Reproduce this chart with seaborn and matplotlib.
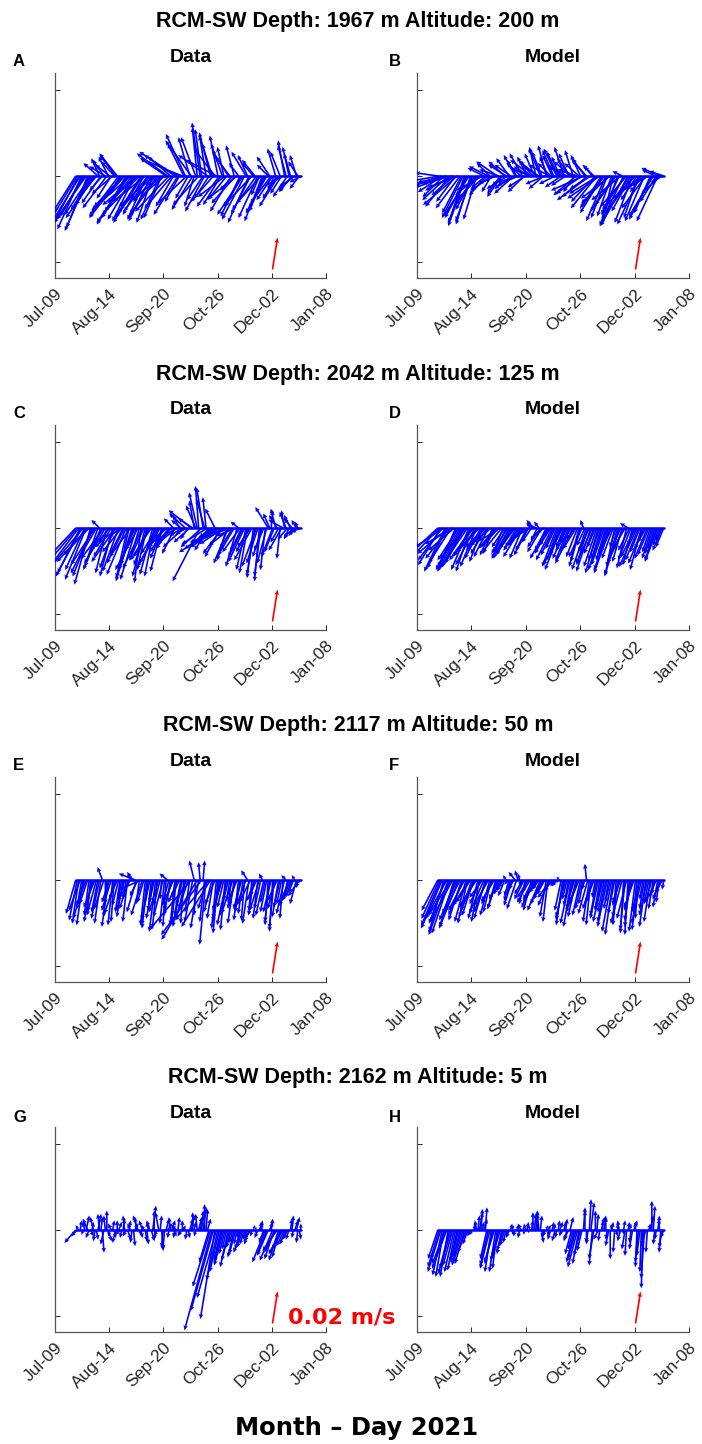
import numpy as np
import pandas as pd
import matplotlib
matplotlib.use("Agg")
import matplotlib.pyplot as plt
import seaborn as sns

# ---------------------------------------------------------------------------
# Current-meter record RCM-SW, 9 Jul 2021 - 8 Jan 2022, daily vectors.
# Record day 0 is 9 July.  Even days (14..166) and odd days (15..165)
# are kept in separate lists.
# ---------------------------------------------------------------------------
EVEN_FIRST, EVEN_LAST = 14, 166
ODD_FIRST, ODD_LAST = 15, 165

tick_labels = ["Jul-09", "Aug-14", "Sep-20", "Oct-26", "Dec-02", "Jan-08"]
depths = [1967, 2042, 2117, 2162]
altitudes = [200, 125, 50, 5]
panel_letters = ["A", "B", "C", "D", "E", "F", "G", "H"]
column_titles = ["Data", "Model"]

# Velocity components (cm/s): u eastward, v northward -- even days
u_A = [-1.4, -1.6, -1.5, -1.7, -1.3, -1.6, -1.1, -1.2,
       -0.5, -0.8, -1.0, -0.6, -0.9, -0.8, -1.1, -0.7,
       -1.8, -1.5, -2.0, -1.7, -1.4, -1.9, -1.6, -1.3,
       -1.2, -1.6, -1.0, -1.4, -1.8, -1.1, -1.5, -1.9,
       -1.4, -1.1, -2.0, -0.9, -1.3, -1.2, -0.8, -1.6,
       -0.6, -0.3, -0.5, -1.0, -0.4, -0.9, -0.6, -1.3,
       -0.5, -1.1, -0.4, -1.2, -0.9, -0.8, -1.5, -0.6,
       -1.0, -1.4, -0.6, -1.2, -0.7, -1.5, -0.5, -1.1,
       -1.0, -0.7, -1.3, -0.4, -0.9, -0.6, -1.1, -0.5,
       -0.3, -0.8, -1.0, -0.6, -0.7]
v_A = [-2.2, -3.0, -3.3, -2.7, -3.2, -2.4, -1.8, -1.5,
       1.1, -0.9, 0.6, 1.2, -1.4, 0.9, 1.4, -1.2,
       -1.9, -2.6, -2.9, -2.2, -2.8, -1.7, -2.6, -2.4,
       -2.7, -2.2, -2.9, -1.6, -2.4, -2.6, -1.3, 1.4,
       1.2, -1.9, 1.3, -1.6, 0.5, 2.6, -1.4, 2.2,
       -1.9, 3.0, 3.3, -1.5, 2.5, -1.4, 2.0, 1.7,
       2.5, -1.8, 1.8, -1.5, 1.2, -0.9, -1.7, 0.8,
       -1.9, -2.7, 1.3, -2.4, 0.8, -2.1, -1.2, -2.8,
       -2.0, 0.7, -1.7, -0.9, -1.4, 1.5, -0.6, 1.9,
       1.4, -1.0, -0.7, 0.9, -0.4]
# odd days
u_A_odd = [-1.7, -1.9, -1.4, -2.0, -1.5, -1.3, -1.8, -0.9,
           -1.2, -0.7, -1.5, -0.9, -1.3, -1.0, -1.7, -2.0,
           -2.2, -1.9, -2.4, -1.6, -2.1, -2.3, -1.8, -2.0,
           -1.9, -1.4, -2.2, -1.7, -1.2, -2.0, -1.6, -2.1,
           -1.7, -2.2, -1.5, -2.5, -1.0, -1.8, -0.7, -1.3,
           -0.9, -1.6, -0.4, -1.2, -1.8, -0.7, -1.4, -1.9,
           -1.4, -0.7, -1.7, -1.0, -1.3, -0.5, -1.8, -1.2,
           -1.6, -0.9, -1.3, -1.8, -0.8, -1.2, -1.5, -0.9,
           -1.3, -0.8, -1.0, -0.5, -1.2, -0.7, -0.4, -0.9,
           -0.5, -0.9, -0.4, -0.6]
v_A_odd = [-2.8, -3.1, -2.5, -2.9, -3.4, -2.1, -2.6, 0.8,
           -1.7, 1.0, -2.0, 0.7, -1.1, 1.3, -2.3, -2.6,
           -2.5, -3.0, -2.1, -2.7, -1.8, -2.4, -2.9, -1.6,
           -2.3, -2.8, -1.9, -2.5, -2.7, -1.5, 1.1, -2.2,
           -2.0, 1.5, -2.4, 1.1, 2.0, -1.7, 2.4, -2.1,
           2.4, -1.8, 2.9, -2.2, 1.3, 2.7, -1.6, 1.0,
           -1.9, 2.0, -1.3, 1.6, -2.2, 1.9, -1.4, -2.5,
           -2.4, 1.5, -2.9, -1.9, 1.0, -2.6, -1.7, -2.2,
           -2.3, 1.2, -1.5, 1.7, -1.9, -1.1, 2.2, -1.3,
           1.8, -0.9, 1.3, -0.8]

u_B = [-1.4, -1.6, -1.3, -1.8, -1.5, -1.7, -1.2, -1.9,
       -1.2, -1.0, -1.4, -0.9, -1.1, -0.8, -1.3, -1.6,
       -0.9, -1.2, -0.6, -1.0, -1.3, -0.8, -0.7, -1.1,
       -0.8, -1.1, -0.7, -1.3, -0.9, -1.0, -0.6, -1.2,
       -0.9, -0.4, -1.0, -0.6, -1.2, -0.5, -0.8, -0.7,
       -0.8, -0.5, -1.0, -0.9, -0.6, -1.1, -0.7, -1.3,
       -0.6, -2.0, -0.9, -1.7, -0.5, -1.5, -1.8, -1.2,
       -1.5, -1.0, -1.8, -0.7, -1.3, -1.1, -0.6, -1.4,
       -1.7, -1.2, -2.0, -1.0, -1.4, -0.8, -1.5, -1.1,
       -1.4, -0.8, -1.3, -1.2, -0.9]
v_B = [0.2, -0.6, -1.3, -0.4, -1.9, -0.9, -1.6, -0.7,
       -2.3, -2.9, -2.6, -3.0, -2.1, -2.7, -1.4, -0.9,
       -0.8, 0.6, -1.0, -0.5, 0.9, -1.1, -0.6, 0.7,
       1.1, -0.8, 1.3, -0.6, 0.8, -1.0, 1.2, 0.5,
       1.0, 1.8, 0.6, 1.5, -0.5, 1.2, 0.8, 1.6,
       1.7, 1.2, 0.7, -0.6, 1.4, 0.9, -1.0, 0.4,
       1.3, -0.9, 1.0, -1.3, 0.6, -1.6, -1.1, -1.9,
       -2.0, -2.6, -1.4, -3.0, -1.8, -2.4, 0.3, -2.1,
       -3.1, -2.2, -2.6, -1.5, -3.0, -1.0, -2.0, -0.6,
       -2.7, 0.4, -2.8, -1.1, 0.3]
u_B_odd = [-1.7, -1.5, -2.0, -1.6, -1.8, -1.4, -2.1, -1.5,
           -1.3, -1.1, -1.5, -1.0, -1.2, -1.4, -0.9, -1.0,
           -1.1, -0.8, -1.4, -0.7, -1.2, -0.9, -1.0, -1.3,
           -1.0, -1.2, -0.6, -1.4, -0.8, -1.1, -0.9, -1.3,
           -0.6, -1.1, -0.7, -0.9, -0.5, -1.3, -0.6, -1.0,
           -0.7, -1.0, -0.6, -1.2, -0.8, -0.5, -1.4, -0.9,
           -1.6, -0.8, -1.9, -1.3, -0.7, -1.6, -2.0, -1.4,
           -1.2, -1.7, -0.9, -1.5, -1.1, -1.8, -1.3, -1.6,
           -1.5, -1.1, -1.8, -0.9, -1.6, -1.2, -1.3, -1.0,
           -1.5, -1.0, -1.1, -0.7]
v_B_odd = [-0.3, -1.0, -0.8, -1.5, -0.5, -1.2, -1.8, -2.0,
           -2.6, -3.1, -2.4, -2.8, -1.8, -1.2, -0.7, 0.5,
           -1.2, 0.8, -0.9, -0.3, 0.4, -1.3, 0.9, -0.8,
           0.7, -1.1, 1.0, -0.4, 1.4, -0.7, 0.6, 1.0,
           1.4, 0.9, 1.7, -0.8, 1.9, 0.7, 1.3, -0.5,
           1.5, -0.7, 1.8, 0.6, 1.1, 1.6, -1.2, 0.8,
           -1.1, 1.1, -1.5, -0.8, 0.7, -2.0, -1.4, -2.3,
           -2.8, -1.7, -2.5, -2.2, -3.1, -1.5, -2.7, -1.9,
           -2.4, -2.9, -1.8, -2.6, -1.3, -2.8, -0.8, -2.3,
           -2.5, -1.6, 0.5, -0.4]

u_C = [-1.5, -1.8, -1.6, -1.2, -1.9, -1.0, -1.4, -1.1,
       -0.5, -0.8, -1.3, -0.6, -1.1, -0.9, -1.4, -0.7,
       -0.8, -1.2, -0.5, -1.0, -0.6, -1.4, -0.4, -0.9,
       -0.6, -1.0, -0.8, -0.5, -1.2, -0.7, -0.9, -1.1,
       -0.9, -0.6, -1.2, -0.4, -0.8, -1.0, -0.5, -1.4,
       -0.3, -0.5, -1.7, -0.4, -0.2, -0.9, -1.0, -0.6,
       -2.4, -1.0, -1.5, -0.6, -2.0, -0.8, -1.2, -0.5,
       -0.7, -1.0, -0.5, -0.8, -0.4, -0.9, -0.3, -0.6,
       -0.3, -0.8, 0.1, -0.6, -0.5, -0.2, -0.9, -0.4,
       -0.3, -0.5, -0.4, -0.2, -0.7]
v_C = [-1.6, -2.4, -3.0, -2.6, -2.1, -3.5, -2.8, -1.9,
       0.5, -1.6, -2.2, -1.0, -1.8, -2.5, -1.2, -0.6,
       -1.6, -2.9, -2.3, -3.3, -1.4, -2.6, -3.4, -2.0,
       -2.6, -1.8, -2.9, -1.2, -2.2, -2.7, -1.5, -0.8,
       -1.3, 0.6, -1.0, 0.8, -0.5, 0.9, -0.7, 1.1,
       1.7, 2.2, -3.3, 2.5, 1.9, -1.4, -0.9, 1.2,
       -1.5, -1.8, -1.0, -2.0, -0.8, -1.3, -0.5, 0.4,
       -1.5, -2.1, -2.8, -1.2, -3.1, -2.4, -3.3, -1.8,
       -2.6, 1.3, 1.1, -1.5, 0.8, -1.9, 0.5, 1.0,
       -0.7, 0.6, -0.5, 0.4, -0.2]
u_C_odd = [-1.7, -1.4, -2.0, -1.3, -1.6, -1.2, -1.5, -0.9,
           -1.0, -1.4, -0.7, -1.2, -0.8, -1.5, -1.0, -1.2,
           -1.1, -0.7, -1.3, -0.9, -1.0, -0.6, -1.2, -0.8,
           -0.9, -1.3, -0.6, -1.0, -1.4, -0.8, -1.1, -0.7,
           -1.1, -0.8, -1.5, -0.6, -1.3, -0.7, -1.0, -0.9,
           -0.6, -0.2, -1.3, -0.5, -1.6, -0.7, -1.8, -1.2,
           -1.8, -1.2, -2.2, -0.9, -1.4, -1.0, -0.7, -1.1,
           -0.9, -0.6, -0.8, -1.1, -0.5, -0.7, -0.4, -0.6,
           -0.6, -0.4, -0.7, -0.3, -0.5, -0.8, -0.2, -0.6,
           -0.4, -0.6, -0.3, -0.5]
v_C_odd = [-2.0, -2.8, -2.4, -3.2, -1.7, -3.0, -2.3, -2.6,
           -2.4, -1.9, -2.8, -1.4, -3.0, -2.1, -2.7, -1.5,
           -2.2, -3.1, -1.8, -2.6, -3.2, -2.0, -2.5, -3.0,
           -2.3, -2.0, -3.0, -1.6, -2.4, -1.9, -1.2, -0.9,
           -1.0, -1.6, -0.8, 0.5, -1.2, -0.4, -0.9, 0.6,
           1.4, 2.6, -1.2, 1.8, -1.0, -0.6, -1.3, -0.7,
           -1.2, -1.6, -0.9, -2.2, -1.1, -1.7, -2.4, -1.5,
           -1.8, -2.6, -1.5, -2.0, -2.9, -2.2, -3.0, -1.4,
           -2.2, 0.9, -1.8, 1.2, -0.9, -1.4, 1.1, -0.7,
           0.8, -0.6, 0.5, -0.3]

u_D = [-1.6, -1.4, -1.8, -1.2, -1.5, -1.7, -1.1, -1.3,
       -1.5, -1.2, -1.7, -0.9, -1.3, -1.0, -1.4, -0.8,
       -1.2, -0.9, -1.1, -0.7, -1.0, -1.3, -0.6, -0.9,
       -1.0, -0.8, -1.2, -0.6, -1.1, -0.9, -0.7, -1.0,
       -0.4, -0.6, -0.3, -0.9, -0.5, -1.1, -0.7, -0.8,
       -0.9, -0.6, -1.2, -0.4, -0.8, -1.0, -0.5, -0.7,
       -0.6, -0.2, -0.9, -0.7, -1.0, -0.5, -0.8, -0.6,
       -0.8, -0.5, -1.0, -0.7, -0.4, -0.9, -0.6, -0.8,
       -0.5, -0.8, -0.4, -1.1, -0.6, -0.9, -0.5, -0.7,
       -0.6, -0.4, -0.8, -0.3, -0.5]
v_D = [-1.5, -2.3, -1.2, -2.5, -1.9, -1.0, -2.6, -2.0,
       -2.7, -2.2, -2.5, -2.7, -1.8, -2.4, -1.5, -2.1,
       -1.4, -1.8, -0.9, -1.6, -1.2, -0.8, -1.5, -1.9,
       -1.9, -1.3, -1.6, -1.1, -1.8, -0.9, -1.4, -0.6,
       0.5, 0.3, 0.4, -1.5, -0.3, -1.9, -1.1, -1.7,
       -2.4, -1.7, -2.3, -0.9, -2.0, -1.4, -0.7, -1.8,
       -2.1, 0.5, -2.6, -1.5, -2.2, -1.2, -2.8, -1.9,
       -2.3, -1.6, -2.8, -1.9, -1.2, -3.0, -2.1, -1.4,
       0.3, -2.0, -1.1, -2.4, -1.5, -2.2, -0.9, -1.7,
       -1.9, -1.3, -2.1, -0.8, -1.2]
u_D_odd = [-1.7, -1.5, -1.3, -1.9, -1.4, -1.6, -1.2, -1.5,
           -1.3, -1.6, -1.1, -1.4, -1.2, -1.5, -1.0, -1.1,
           -1.0, -1.2, -0.8, -1.1, -0.9, -1.2, -0.8, -1.0,
           -0.9, -1.1, -0.7, -1.0, -0.8, -1.2, -0.9, -0.6,
           -0.5, -0.4, -0.8, -0.6, -0.7, -0.9, -1.0, -0.6,
           -0.7, -1.0, -0.5, -0.9, -0.6, -1.1, -0.8, -0.6,
           -0.8, -0.5, -0.7, -0.9, -0.6, -0.8, -0.7, -0.9,
           -0.6, -0.9, -0.7, -0.5, -0.8, -0.7, -1.0, -0.6,
           -0.7, -0.6, -0.9, -0.8, -0.7, -0.6, -0.8, -0.5,
           -0.5, -0.7, -0.4, -0.6]
v_D_odd = [-1.8, -2.0, -2.7, -1.6, -2.2, -1.4, -2.4, -2.6,
           -2.4, -1.9, -2.6, -2.0, -2.3, -1.7, -1.9, -1.2,
           -1.6, -1.1, -1.7, -1.3, -1.0, -1.5, -1.2, -1.6,
           -1.5, -1.7, -1.2, -1.4, -1.9, -1.1, -1.7, -0.9,
           0.2, -0.8, -1.2, -0.5, -1.4, -1.6, -2.0, -1.3,
           -2.0, -2.6, -1.2, -1.9, -1.5, -2.2, -1.3, -2.4,
           -1.8, -1.1, -2.3, -2.7, -1.6, -2.4, -2.0, -2.6,
           -2.0, -2.6, -1.5, -2.4, -2.9, -1.7, -2.2, -2.5,
           -1.4, -2.3, -1.8, -2.0, -2.6, -1.3, -1.9, -1.5,
           -1.6, -2.0, -1.1, -1.4]

u_E = [-0.6, -0.4, -0.3, -0.7, -0.5, -0.2, -0.4, -0.6,
       -0.5, -0.3, 0.0, -0.4, -0.6, -0.2, -0.5, -0.3,
       -0.4, -0.2, -0.6, -0.3, -1.0, -0.5, -1.3, -0.4,
       -0.3, -0.5, -0.2, -0.4, -0.6, -0.1, -0.3, -0.5,
       -0.4, -0.7, -0.3, -0.5, -0.6, -0.4, -0.8, -2.6,
       -0.3, -2.2, -0.1, 0.1, -0.4, -2.1, -0.5, -0.6,
       -0.3, -0.5, -0.4, -0.6, -0.2, -0.7, -0.4, -0.3,
       -0.5, -0.2, -0.4, -0.7, -0.3, -0.4, -0.6, -0.2,
       -0.3, -0.2, -0.5, -0.3, -0.6, -0.4, -0.2, -0.3,
       -0.6, -0.4, -0.2, -0.1, -0.3]
v_E = [-2.1, -2.7, -1.8, -2.4, -1.5, -2.0, -1.3, -2.2,
       -2.4, 0.8, -1.5, -2.9, -1.9, -2.6, -1.2, -2.0,
       -2.3, -1.2, -1.8, 0.5, 0.4, -1.0, -0.6, -1.4,
       -3.0, -2.5, -1.4, -3.2, -2.0, -1.2, -2.7, 0.4,
       -2.2, -1.6, -2.6, -1.1, -2.9, -1.8, -2.4, -3.1,
       1.2, -3.7, 1.1, 1.2, -4.0, -2.5, -2.0, -1.5,
       -3.3, -2.4, -1.7, -2.8, -1.3, -2.1, -1.6, -2.5,
       -1.8, -2.5, 0.6, -1.4, -2.2, -1.0, -1.9, 0.4,
       -1.4, -2.8, -2.0, -3.0, -1.3, -1.7, -2.4, 0.3,
       -1.6, -1.1, 0.3, -0.5, -0.2]
u_E_odd = [-0.5, -0.7, -0.4, -0.6, -0.3, -0.5, -0.7, -0.4,
           -0.4, -0.6, -0.2, -0.5, -0.3, -0.7, -0.4, -0.2,
           -0.5, -0.3, -0.8, -0.4, -0.6, -0.2, -0.7, -0.3,
           -0.4, -0.2, -0.5, -0.3, -0.4, -0.6, -0.2, -0.4,
           -0.5, -0.3, -0.6, -0.4, -0.2, -0.7, -0.3, -0.5,
           -0.1, -0.5, -2.5, -0.3, -0.6, -1.8, -0.4, -0.3,
           -0.4, -0.6, -0.3, -0.5, -0.2, -0.4, -0.6, -0.3,
           -0.3, -0.6, -0.4, -0.2, -0.5, -0.3, -0.4, -0.5,
           -0.4, -0.3, -0.2, -0.5, -0.4, -0.3, -0.5, -0.2,
           -0.5, -0.3, -0.4, -0.7]
v_E_odd = [-2.5, -1.9, -2.8, -1.6, -2.2, -2.6, -1.7, -2.0,
           -2.7, -1.8, -2.3, -1.4, -2.8, -2.1, -1.6, -1.1,
           -1.9, -2.6, -1.3, 0.3, -2.0, -1.5, -2.2, -2.8,
           -2.8, -1.9, -2.4, -3.0, -1.6, -2.3, -2.9, -1.4,
           -1.9, -2.8, -1.4, -2.2, -2.7, -1.5, -2.0, -2.6,
           -2.2, -3.0, -3.4, -2.6, -1.8, -2.9, -2.4, -3.0,
           -2.6, -1.9, -3.1, -2.2, -1.8, -2.7, -1.4, -2.0,
           -2.1, -1.6, -2.7, -1.9, -1.3, -2.4, -1.8, -2.2,
           -2.0, -2.6, -3.2, -1.8, -2.3, -1.5, -2.1, -1.1,
           -1.3, -0.8, -1.5, -1.0]

u_F = [-1.0, -1.2, -0.9, -1.3, -1.1, -1.4, -0.8, -1.2,
       -0.8, -1.0, -0.6, -0.9, -0.7, -1.1, -0.5, -0.8,
       -0.7, -0.9, -0.5, -0.8, -0.6, -0.4, -0.3, -0.2,
       -0.3, -0.5, -0.4, -0.2, -0.1, -0.6, -0.3, -0.8,
       -0.6, -0.9, -0.4, -0.7, -0.5, -0.3, -0.8, -0.2,
       -0.3, -0.2, -0.4, -0.6, -0.3, -0.5, -0.4, -0.7,
       -0.5, -0.3, -0.1, -0.4, -0.6, -0.2, -0.5, -0.3,
       -0.4, -0.6, -0.3, -0.5, -0.2, -0.4, -0.7, -0.3,
       -0.2, -0.4, -0.6, -0.3, -0.5, -0.2, -0.4, -0.3,
       -0.4, -0.2, -0.3, -0.5, -0.1]
v_F = [-1.9, -2.8, -3.2, -2.4, -3.3, -2.6, -2.1, -3.0,
       -2.5, -1.9, -2.7, -1.4, -2.2, -1.7, -2.6, -1.1,
       -2.4, -1.6, -2.0, -1.3, -1.8, -0.9, -0.5, 0.3,
       -1.0, -1.6, 0.5, 0.6, -0.4, -1.2, -0.8, -1.4,
       -1.2, -1.7, -0.6, -1.5, -0.9, -2.6, -1.1, -0.4,
       -0.4, 0.2, -2.8, -2.3, -1.6, -2.9, -1.3, -2.0,
       -2.2, -1.5, 1.0, -2.6, -1.8, -1.1, -2.4, -1.7,
       -2.0, -2.9, -1.4, -3.4, -2.3, -1.6, -2.7, -3.1,
       -3.4, -2.5, -1.7, -3.1, -2.0, -1.2, -2.9, -1.5,
       -1.4, -0.9, -1.7, -1.2, -0.6]
u_F_odd = [-1.1, -1.3, -1.0, -1.2, -1.4, -0.9, -1.1, -1.0,
           -0.9, -0.7, -1.0, -0.8, -0.9, -0.6, -0.7, -0.9,
           -0.8, -0.6, -0.7, -0.5, -0.6, -0.3, -0.4, -0.2,
           -0.4, -0.3, -0.6, -0.1, -0.5, -0.4, -0.7, -0.5,
           -0.7, -0.5, -0.8, -0.6, -0.4, -0.7, -0.5, -0.3,
           -0.1, -0.4, -0.5, -0.3, -0.6, -0.4, -0.5, -0.6,
           -0.4, -0.2, -0.6, -0.3, -0.5, -0.4, -0.3, -0.6,
           -0.5, -0.3, -0.6, -0.4, -0.3, -0.5, -0.2, -0.6,
           -0.3, -0.5, -0.4, -0.2, -0.6, -0.3, -0.5, -0.4,
           -0.3, -0.5, -0.2, -0.4]
v_F_odd = [-2.4, -3.0, -2.7, -3.4, -2.2, -2.9, -2.5, -2.0,
           -2.2, -2.6, -1.6, -2.3, -1.9, -2.4, -1.5, -2.1,
           -2.0, -2.2, -1.5, -1.8, -1.2, -0.7, -1.0, -0.3,
           -1.3, -0.6, -1.8, 0.4, -0.9, -1.5, -1.1, -1.9,
           -1.4, -0.8, -1.9, -1.2, -2.3, -1.6, -0.7, -0.3,
           -0.2, -1.9, -2.5, -1.2, -2.7, -1.8, -2.3, -1.5,
           -1.8, -0.6, -2.1, -2.8, -1.4, -2.2, -1.9, -2.6,
           -2.6, -1.8, -3.2, -2.1, -2.8, -1.4, -3.3, -2.4,
           -2.9, -1.9, -3.2, -2.4, -2.7, -1.8, -2.2, -2.6,
           -1.8, -1.1, -1.4, -0.8]

u_G = [-0.7, -0.2, 0.1, -0.1, -0.3, 0.2, -0.2, 0.1,
       -0.1, 0.1, -0.1, 0.2, -0.2, 0.1, 0.0, -0.3,
       0.1, -0.2, 0.1, -0.1, 0.2, -0.3, 0.1, -0.1,
       0.1, -0.2, 0.2, -0.1, -0.2, 0.1, -0.1, 0.3,
       -0.1, 0.2, -0.3, 0.1, 0.0, -0.2, 0.1, 0.2,
       0.1, -0.1, 0.2, 0.2, 0.1, -0.6, -1.7, -0.9,
       -0.7, -0.4, -0.6, -0.3, -0.5, -0.2, -0.4, -0.1,
       -0.5, -0.3, -0.2, -0.4, 0.1, -0.1, 0.2, -0.1,
       -0.8, -0.7, 0.1, -0.6, -0.9, -0.5, -0.7, -0.4,
       -0.2, 0.1, 0.2, -0.1, 0.0]
v_G = [-0.8, 0.3, -0.2, 0.5, 0.7, -0.4, 0.8, -0.6,
       1.0, -1.4, 0.9, -0.7, 0.4, -0.5, 0.6, -0.3,
       0.7, -0.4, 0.6, -0.8, 0.4, 0.9, -0.5, 0.3,
       -0.9, 0.6, 1.5, -0.6, 1.1, -1.3, -1.2, 0.4,
       0.8, -0.4, 0.3, -0.3, 0.6, 0.2, -0.5, 0.9,
       0.5, 1.0, 0.9, 1.4, 1.3, -2.0, -6.2, -5.5,
       -3.1, -1.8, -2.2, -1.2, -1.9, -0.8, -1.5, -0.5,
       -1.4, -0.9, -0.5, -0.7, 0.3, -0.2, 0.5, 0.4,
       -2.0, -1.6, 0.7, -1.8, -1.3, -1.7, -1.2, -0.9,
       -0.6, 0.9, 0.6, -0.8, 0.4]
u_G_odd = [-0.4, 0.1, -0.1, 0.2, -0.2, 0.1, -0.1, 0.2,
           0.1, -0.2, 0.0, -0.1, 0.1, -0.2, 0.2, -0.1,
           -0.1, 0.2, -0.2, 0.1, -0.1, 0.1, -0.2, 0.1,
           -0.1, 0.2, 0.0, -0.2, 0.1, -0.1, 0.2, -0.1,
           0.2, -0.1, 0.1, -0.2, 0.1, -0.1, 0.2, 0.0,
           -0.1, 0.2, 0.1, 0.0, 0.2, -1.1, -1.4, -1.2,
           -0.6, -0.5, -0.4, -0.5, -0.3, -0.4, -0.2, -0.3,
           -0.4, -0.2, -0.3, -0.1, 0.1, -0.2, 0.1, -0.3,
           -0.6, 0.2, -0.8, -0.7, -0.6, -0.8, -0.5, -0.3,
           0.1, -0.1, 0.2, 0.1]
v_G_odd = [-0.4, 0.6, -0.3, 0.9, -0.5, 0.5, -0.7, 1.0,
           0.8, -0.9, 1.2, -0.4, 0.6, -0.8, 0.5, -0.5,
           0.9, -0.6, 0.4, -1.0, 0.8, -0.3, 0.6, -0.7,
           0.5, -0.7, 1.2, -0.4, 0.9, -1.1, 0.7, -0.5,
           0.6, -0.5, 0.8, -0.4, 0.3, -0.6, 0.7, 1.1,
           -0.4, 0.8, 1.2, 1.6, 0.7, -3.5, -5.0, -4.2,
           -2.6, -2.0, -1.5, -2.3, -1.1, -1.7, -0.9, -1.2,
           -1.1, -0.6, -0.9, -0.4, 0.2, -0.5, 0.6, -0.8,
           -1.5, 0.5, -1.9, -1.4, -1.9, -1.5, -1.0, -0.6,
           0.7, -0.5, 0.8, -0.6]

u_H = [-0.6, -0.8, -0.5, -0.9, -0.7, -0.6, -0.5, -0.4,
       -0.5, -0.6, -0.3, -0.2, 0.1, -0.1, 0.2, 0.1,
       0.1, -0.5, -0.4, -0.6, -0.3, -0.5, -0.4, -0.2,
       -0.2, 0.1, -0.1, 0.1, -0.2, 0.0, 0.1, -0.1,
       0.0, 0.1, -0.1, 0.1, -0.1, 0.2, -0.2, 0.1,
       -0.1, 0.2, -0.2, 0.1, -0.3, -0.4, -0.5, -0.6,
       -0.4, 0.1, 0.0, 0.1, -0.2, 0.0, -0.3, 0.2,
       0.1, -0.1, 0.0, -0.2, 0.1, -0.1, 0.2, -0.2,
       0.1, -0.1, 0.2, -0.1, -0.2, -0.1, -0.3, 0.1,
       0.0, -0.1, 0.1, -0.1, -0.2]
v_H = [-1.8, -2.6, -2.9, -2.4, -2.7, -2.2, -2.5, -1.7,
       -1.6, -2.1, -0.9, -0.4, 0.3, 0.6, 1.1, 0.5,
       1.4, -2.2, -2.6, -2.0, -2.4, -1.7, -1.3, -0.8,
       -0.5, 0.3, -0.4, 0.2, 0.4, -0.3, 0.5, 0.3,
       1.1, 1.2, 1.0, -0.8, -0.4, 0.3, -0.6, 0.4,
       -0.5, 0.5, -0.3, 0.7, -0.6, -1.5, -2.0, -2.3,
       -1.6, 1.4, -0.8, 1.9, -2.2, 1.2, -0.6, 0.8,
       0.9, -0.6, -1.8, 0.3, -0.4, 0.6, -0.3, -1.2,
       0.5, -0.8, 0.6, -2.3, -1.6, -3.6, -1.0, 0.4,
       1.8, -0.9, 0.7, -1.4, -0.5]
u_H_odd = [-0.7, -0.6, -0.8, -0.5, -0.7, -0.6, -0.4, -0.5,
           -0.6, -0.5, -0.4, -0.1, 0.0, 0.1, 0.1, 0.2,
           -0.4, -0.6, -0.5, -0.4, -0.5, -0.3, -0.3, -0.1,
           0.1, -0.1, 0.1, -0.1, 0.1, -0.1, 0.0, 0.1,
           0.1, 0.0, 0.1, -0.1, 0.1, -0.1, 0.1, -0.2,
           0.1, -0.1, 0.1, -0.2, 0.2, -0.3, -0.5, -0.4,
           -0.3, 0.0, -0.1, 0.2, -0.3, 0.1, -0.1, 0.0,
           0.0, -0.2, 0.1, -0.1, 0.0, -0.2, 0.1, -0.1,
           0.1, -0.2, 0.0, -0.2, -0.1, -0.2, -0.1, 0.2,
           0.1, -0.1, 0.0, -0.2]
v_H_odd = [-2.3, -2.8, -2.1, -2.9, -2.4, -2.6, -2.0, -2.2,
           -2.0, -1.4, -0.6, -0.3, 0.4, 0.9, 1.3, 0.7,
           -1.8, -2.4, -2.1, -2.6, -1.9, -1.5, -1.0, -0.4,
           0.4, -0.3, 0.3, -0.5, 0.2, 0.4, -0.2, 0.6,
           1.0, 1.2, 0.9, -0.5, 0.3, -0.4, 0.5, -0.7,
           0.6, -0.4, 0.5, -0.7, 0.8, -1.2, -1.8, -2.1,
           -1.3, 1.2, -0.9, 1.7, -1.8, 1.0, -0.7, 0.6,
           0.8, -1.0, 0.5, -1.4, 0.4, -0.7, 0.6, -1.6,
           0.4, -1.2, 0.5, -2.0, -2.6, -3.0, -1.4, 0.9,
           1.5, -0.6, 0.9, -1.1]

# Reference arrow
scale_speed = 0.02      # m/s
scale_heading = 8.9     # degrees clockwise from north
scale_label = "0.02 m/s"

panels = [(u_A, v_A, u_A_odd, v_A_odd), (u_B, v_B, u_B_odd, v_B_odd),
          (u_C, v_C, u_C_odd, v_C_odd), (u_D, v_D, u_D_odd, v_D_odd),
          (u_E, v_E, u_E_odd, v_E_odd), (u_F, v_F, u_F_odd, v_F_odd),
          (u_G, v_G, u_G_odd, v_G_odd), (u_H, v_H, u_H_odd, v_H_odd)]

# ---------------------------------------------------------------------------
# Layout / drawing constants
# ---------------------------------------------------------------------------
W, H = 702, 1444
RECORD_DAYS = 183.0          # 9 Jul 2021 -> 8 Jan 2022
DAYS_PER_MS = 1095.0         # horizontal stretch so that vectors keep true direction
Y_TOP, Y_BOT, Y_TICK = 0.0636, -0.0630, 0.0531
SCALE_X, SCALE_Y = 146.4, -0.0575
BLUE, RED = "#0000FF", "#FF0000"
AX_COLOR = "#262626"

sns.set_theme(style="ticks")
plt.rcParams["font.family"] = ["Liberation Sans", "DejaVu Sans"]

fig = plt.figure(figsize=(W / 100, H / 100), dpi=100)

col_left = [55, 417]
col_width = [271, 272]
row_top = [73, 425, 777, 1127]
ax_h = 205
row_step = 352


def px_box(x0, top, w, h):
    return [x0 / W, 1 - (top + h) / H, w / W, h / H]


days_even = np.arange(EVEN_FIRST, EVEN_LAST + 1, 2)
days_odd = np.arange(ODD_FIRST, ODD_LAST + 1, 2)
days = np.concatenate([days_even, days_odd])
tick_pos = np.linspace(0, RECORD_DAYS, len(tick_labels))

for k, (ue, ve, uo, vo) in enumerate(panels):
    r, c = divmod(k, 2)
    ax = fig.add_axes(px_box(col_left[c], row_top[r], col_width[c], ax_h))
    u_ms = np.concatenate([ue, uo]) / 100.0
    v_ms = np.concatenate([ve, vo]) / 100.0

    # zero line joining the vector origins
    base = pd.DataFrame({"day": [days.min(), days.max()], "speed": [0.0, 0.0]})
    sns.lineplot(data=base, x="day", y="speed", ax=ax, color=BLUE,
                 linewidth=1.8, zorder=2)

    ax.quiver(days, np.zeros(len(days)), u_ms * DAYS_PER_MS, v_ms,
              angles="xy", scale_units="xy", scale=1, color=BLUE,
              width=0.0060, headwidth=2.8, headlength=3.0, headaxislength=2.7,
              minshaft=1.5, zorder=3)

    su = scale_speed * np.sin(np.radians(scale_heading))
    sv = scale_speed * np.cos(np.radians(scale_heading))
    ax.quiver([SCALE_X], [SCALE_Y], [su * DAYS_PER_MS], [sv],
              angles="xy", scale_units="xy", scale=1, color=RED,
              width=0.0062, headwidth=2.6, headlength=3.2, headaxislength=2.9,
              zorder=3)

    if k == 6:
        ax.text(157.5, -0.0540, scale_label, color=RED, fontsize=16,
                fontweight="bold", family=["DejaVu Sans"], ha="left",
                va="center", clip_on=False)

    ax.set_xlim(0, RECORD_DAYS)
    ax.set_ylim(Y_BOT, Y_TOP)
    ax.set_xticks(tick_pos)
    ax.set_xticklabels(tick_labels, rotation=45, ha="right",
                       rotation_mode="anchor", fontsize=12.5, color=AX_COLOR)
    ax.set_yticks([-Y_TICK, 0, Y_TICK])
    ax.set_yticklabels([])
    ax.set_xlabel("")
    ax.set_ylabel("")
    ax.tick_params(direction="in", length=3.5, width=0.7, colors=AX_COLOR,
                   pad=6)
    sns.despine(ax=ax)
    for side in ("left", "bottom"):
        ax.spines[side].set_color("#555555")
        ax.spines[side].set_linewidth(0.9)
    ax.set_facecolor("white")

    sub_y = 58 + r * row_step
    sub_x = col_left[c] + col_width[c] / 2
    fig.text(sub_x / W, 1 - sub_y / H, column_titles[c], ha="center",
             va="center", fontsize=14, fontweight="bold", color="black")
    fig.text((13 if c == 0 else 389) / W, 1 - (sub_y + 3) / H,
             panel_letters[k], ha="left", va="center", fontsize=12,
             fontweight="bold", color="black")

for r in range(4):
    fig.text(358 / W, 1 - (22 + r * row_step) / H,
             f"RCM-SW Depth: {depths[r]} m Altitude: {altitudes[r]} m",
             ha="center", va="center", fontsize=15.5, fontweight="bold",
             color="black")

fig.text(357 / W, 1 - 1428 / H, "Month \u2013 Day 2021", ha="center",
         va="center", fontsize=17.5, fontweight="bold",
         family=["DejaVu Sans"], color="black")

fig.savefig("out.png", dpi=100, facecolor="white")
